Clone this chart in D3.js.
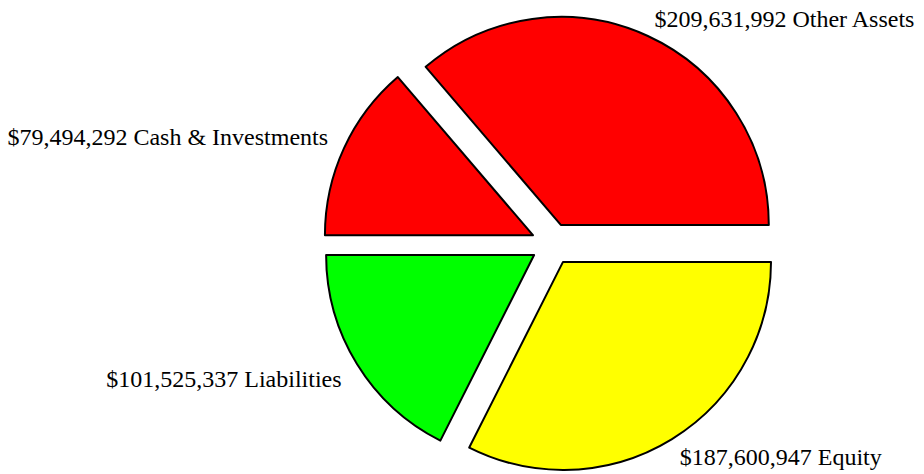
<!DOCTYPE html>
<html>
<head>
<meta charset="utf-8">
<script src="https://cdn.jsdelivr.net/npm/d3@7"></script>
<style>
  body { margin: 0; background: #fff; }
  svg { display: block; }
</style>
</head>
<body>
<svg id="svg"></svg>
<script>
    // -- data (top half = assets, bottom half = liabilities + equity)
    var categories = ["Cash & Investments", "Other Assets", "Equity", "Liabilities"];
    var values = [79494292, 209631992, 187600947, 101525337];
    var colors = ["#ff0000", "#ff0000", "#ffff00", "#00ff00"];

    var width = 924, height = 474;
    var cx = 552, cy = 244;
    var radius = 208;
    var explode = 21;
    var labelRadius = 240;

    var svg = d3.select("svg#svg")
        .attr("width", width)
        .attr("height", height);

    var slices = categories.map(function(c, i) {
        return { name: c, value: values[i], color: colors[i] };
    });

    // - start at 9 o'clock, go clockwise
    var pie = d3.pie()
        .sort(null)
        .value(function(d) { return d.value; })
        .startAngle(-Math.PI / 2)
        .endAngle(3 * Math.PI / 2);

    var arc = d3.arc().innerRadius(0).outerRadius(radius);
    var fmt = d3.format("$,");

    var g = svg.append("g").attr("transform", "translate(" + cx + "," + cy + ")");
    var arcs = pie(slices);

    function mid(d) { return (d.startAngle + d.endAngle) / 2; }

    g.selectAll("path.slice")
        .data(arcs)
        .enter()
        .append("path")
        .attr("class", "slice")
        .attr("d", arc)
        .attr("transform", function(d) {
            var a = mid(d);
            return "translate(" + (Math.sin(a) * explode) + "," + (-Math.cos(a) * explode) + ")";
        })
        .style("fill", function(d) { return d.data.color; })
        .style("stroke", "#000")
        .style("stroke-width", 2)
        .style("stroke-linejoin", "round");

    // - labels
    g.selectAll("text.label")
        .data(arcs)
        .enter()
        .append("text")
        .attr("class", "label")
        .attr("x", function(d) {
            var x = Math.sin(mid(d)) * labelRadius;
            return x > 0 ? x + 2 : x - 6;
        })
        .attr("y", function(d) { return -Math.cos(mid(d)) * labelRadius; })
        .attr("dy", function(d) { return -Math.cos(mid(d)) > 0 ? "0.7em" : "0.05em"; })
        .style("text-anchor", function(d) { return Math.sin(mid(d)) > 0 ? "start" : "end"; })
        .style("font-family", "'Liberation Serif', 'Times New Roman', serif")
        .style("font-size", "24px")
        .style("fill", "#000")
        .text(function(d) { return fmt(d.data.value) + " " + d.data.name; });
</script>
</body>
</html>
